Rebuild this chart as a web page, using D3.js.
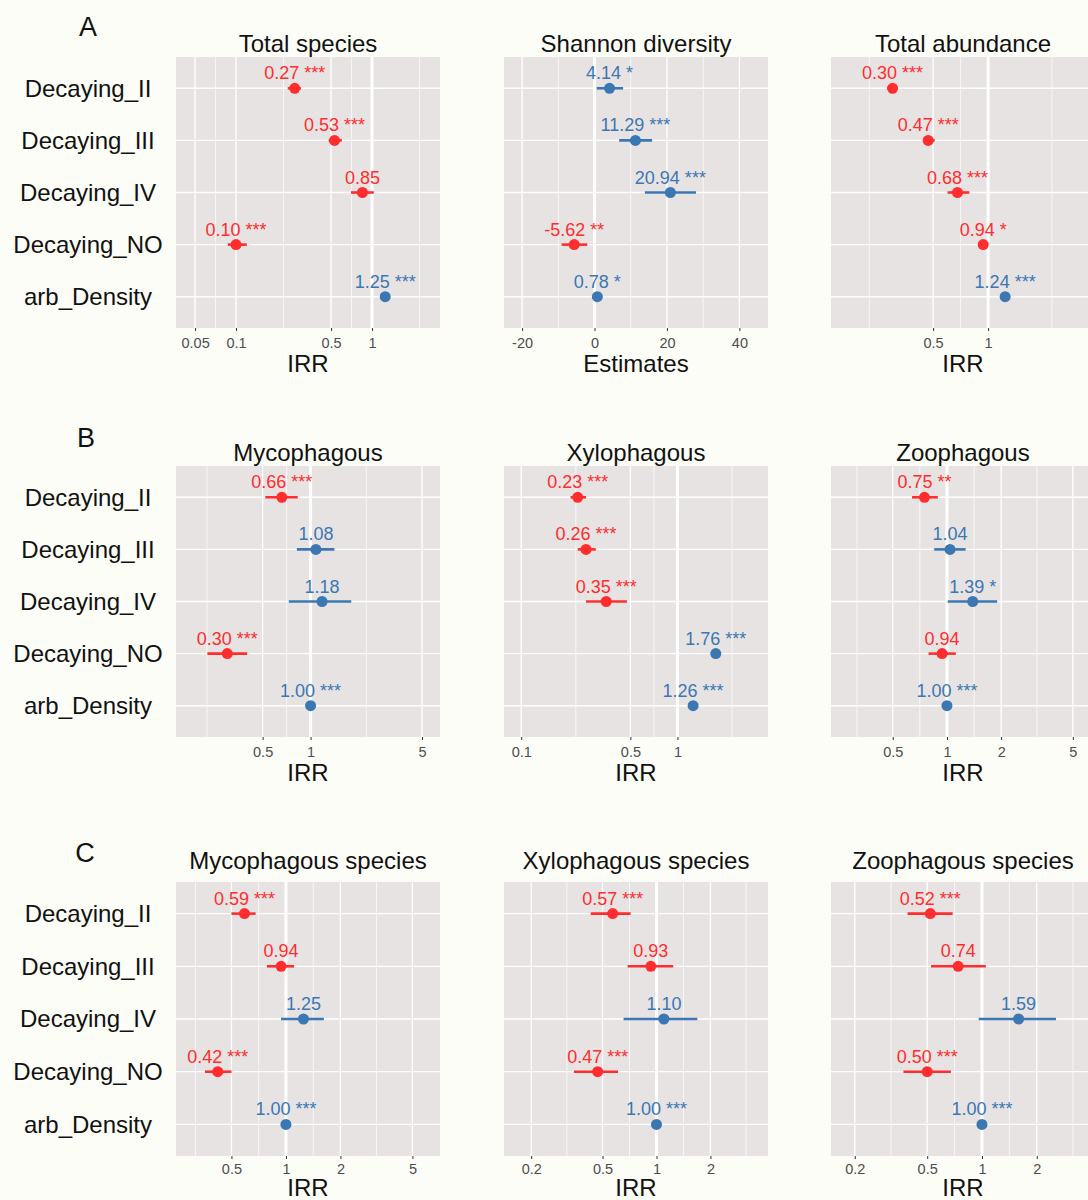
<!DOCTYPE html>
<html>
<head>
<meta charset="utf-8">
<script src="https://cdn.jsdelivr.net/npm/d3@7"></script>
<style>
  body { margin: 0; background: #fdfdf8; }
  svg { display: block; }
  text { font-family: "Liberation Sans", Arial, Helvetica, sans-serif; }
</style>
</head>
<body>
<svg id="chart" width="1088" height="1200"></svg>
<script>
// Model terms shown on every panel (top to bottom)
const terms = ["Decaying_II", "Decaying_III", "Decaying_IV", "Decaying_NO", "arb_Density"];

// ---- A: community totals ----
const totalSpeciesIRR  = [0.27, 0.53, 0.85, 0.10, 1.25];
const totalSpeciesLow  = [0.24, 0.48, 0.70, 0.087, 1.21];
const totalSpeciesHigh = [0.30, 0.60, 1.03, 0.12, 1.29];
const totalSpeciesSig  = ["***", "***", "", "***", "***"];
const totalSpeciesTicks = [0.05, 0.1, 0.5, 1, 5];

const shannonEst  = [4.14, 11.29, 20.94, -5.62, 0.78];
const shannonLow  = [0.6, 6.8, 13.9, -9.1, 0.3];
const shannonHigh = [7.9, 15.9, 28.0, -2.0, 1.3];
const shannonSig  = ["*", "***", "***", "**", "*"];
const shannonTicks = [-20, 0, 20, 40];

const totalAbundanceIRR  = [0.30, 0.47, 0.68, 0.94, 1.24];
const totalAbundanceLow  = [0.28, 0.44, 0.60, 0.91, 1.21];
const totalAbundanceHigh = [0.32, 0.51, 0.79, 0.97, 1.27];
const totalAbundanceSig  = ["***", "***", "***", "*", "***"];
const totalAbundanceTicks = [0.1, 0.5, 1, 5];

// ---- B: abundance by feeding guild ----
const mycoIRR  = [0.66, 1.08, 1.18, 0.30, 1.00];
const mycoLow  = [0.52, 0.82, 0.73, 0.225, 0.99];
const mycoHigh = [0.83, 1.41, 1.80, 0.40, 1.01];
const mycoSig  = ["***", "", "", "***", "***"];
const mycoTicks = [0.1, 0.5, 1, 5];

const xyloIRR  = [0.23, 0.26, 0.35, 1.76, 1.26];
const xyloLow  = [0.207, 0.23, 0.26, 1.73, 1.24];
const xyloHigh = [0.26, 0.30, 0.475, 1.79, 1.28];
const xyloSig  = ["***", "***", "***", "***", "***"];
const xyloTicks = [0.1, 0.5, 1, 5];

const zooIRR  = [0.75, 1.04, 1.39, 0.94, 1.00];
const zooLow  = [0.64, 0.85, 1.01, 0.79, 0.99];
const zooHigh = [0.89, 1.27, 1.90, 1.12, 1.01];
const zooSig  = ["**", "", "*", "", "***"];
const zooTicks = [0.2, 0.5, 1, 2, 5];

// ---- C: species richness by feeding guild ----
const mycoSpIRR  = [0.59, 0.94, 1.25, 0.42, 1.00];
const mycoSpLow  = [0.50, 0.785, 0.94, 0.357, 0.99];
const mycoSpHigh = [0.68, 1.11, 1.62, 0.50, 1.01];
const mycoSpSig  = ["***", "", "", "***", "***"];
const mycoSpTicks = [0.2, 0.5, 1, 2, 5];

const xyloSpIRR  = [0.57, 0.93, 1.10, 0.47, 1.00];
const xyloSpLow  = [0.43, 0.69, 0.655, 0.346, 0.99];
const xyloSpHigh = [0.717, 1.24, 1.69, 0.61, 1.01];
const xyloSpSig  = ["***", "", "", "***", "***"];
const xyloSpTicks = [0.2, 0.5, 1, 2, 5];

const zooSpIRR  = [0.52, 0.74, 1.59, 0.50, 1.00];
const zooSpLow  = [0.39, 0.525, 0.96, 0.37, 0.99];
const zooSpHigh = [0.69, 1.05, 2.55, 0.675, 1.01];
const zooSpSig  = ["***", "", "", "***", "***"];
const zooSpTicks = [0.2, 0.5, 1, 2, 5];

// Panel definitions built from the arrays above
const panels = [
  { group: 0, col: 0, title: "Total species", axis: "IRR", log: true, domain: [0.0362, 3.16], ref: 1,
    ticks: totalSpeciesTicks, est: totalSpeciesIRR, lo: totalSpeciesLow, hi: totalSpeciesHigh, sig: totalSpeciesSig },
  { group: 0, col: 1, title: "Shannon diversity", axis: "Estimates", log: false, domain: [-25, 47.9], ref: 0,
    ticks: shannonTicks, est: shannonEst, lo: shannonLow, hi: shannonHigh, sig: shannonSig },
  { group: 0, col: 2, title: "Total abundance", axis: "IRR", log: true, domain: [0.138, 3.85], ref: 1,
    ticks: totalAbundanceTicks, est: totalAbundanceIRR, lo: totalAbundanceLow, hi: totalAbundanceHigh, sig: totalAbundanceSig },
  { group: 1, col: 0, title: "Mycophagous", axis: "IRR", log: true, domain: [0.143, 6.49], ref: 1,
    ticks: mycoTicks, est: mycoIRR, lo: mycoLow, hi: mycoHigh, sig: mycoSig },
  { group: 1, col: 1, title: "Xylophagous", axis: "IRR", log: true, domain: [0.0776, 3.80], ref: 1,
    ticks: xyloTicks, est: xyloIRR, lo: xyloLow, hi: xyloHigh, sig: xyloSig },
  { group: 1, col: 2, title: "Zoophagous", axis: "IRR", log: true, domain: [0.227, 6.64], ref: 1,
    ticks: zooTicks, est: zooIRR, lo: zooLow, hi: zooHigh, sig: zooSig },
  { group: 2, col: 0, title: "Mycophagous species", axis: "IRR", log: true, domain: [0.247, 7.1], ref: 1,
    ticks: mycoSpTicks, est: mycoSpIRR, lo: mycoSpLow, hi: mycoSpHigh, sig: mycoSpSig },
  { group: 2, col: 1, title: "Xylophagous species", axis: "IRR", log: true, domain: [0.141, 4.19], ref: 1,
    ticks: xyloSpTicks, est: xyloSpIRR, lo: xyloSpLow, hi: xyloSpHigh, sig: xyloSpSig },
  { group: 2, col: 2, title: "Zoophagous species", axis: "IRR", log: true, domain: [0.148, 4.18], ref: 1,
    ticks: zooSpTicks, est: zooSpIRR, lo: zooSpLow, hi: zooSpHigh, sig: zooSpSig }
];

// Page layout
const W = 1088, H = 1200;
const columns = [[176, 440], [504, 768], [831, 1095]];
const groups = [
  { letter: "A", letterX: 88, letterY: 36,  top: 57,  bottom: 328,  titleY: 52,  tickPad: 7, axisTitleY: [372, 372, 372] },
  { letter: "B", letterX: 86, letterY: 447, top: 466, bottom: 737,  titleY: 461, tickPad: 7, axisTitleY: [781, 781, 781] },
  { letter: "C", letterX: 85, letterY: 862, top: 882, bottom: 1156, titleY: 869, tickPad: 5, axisTitleY: [1196, 1196, 1196] }
];
const panelFill = "#e8e3e3";
const negColor = "#ff2d2d";
const posColor = "#3a77b3";
const fmt2 = d3.format(".2f");
const fmt = v => fmt2(v).replace("\u2212", "-");

const svg = d3.select("#chart");
svg.append("rect").attr("width", W).attr("height", H).attr("fill", "#fdfdf8");

// Group letters and row labels
groups.forEach(g => {
  svg.append("text")
    .attr("x", g.letterX).attr("y", g.letterY)
    .attr("text-anchor", "middle")
    .attr("font-size", 27).attr("fill", "#111")
    .text(g.letter);

  const y = d3.scalePoint().domain(terms).range([g.top, g.bottom]).padding(0.6);
  svg.append("g").selectAll("text")
    .data(terms)
    .join("text")
      .attr("x", 88)
      .attr("y", d => y(d))
      .attr("dy", "0.35em")
      .attr("text-anchor", "middle")
      .attr("font-size", 24).attr("fill", "#111")
      .text(d => d);
});

panels.forEach((p, i) => {
  const g = groups[p.group];
  const [x0, x1] = columns[p.col];
  const x = (p.log ? d3.scaleLog() : d3.scaleLinear()).domain(p.domain).range([x0, x1]);
  const y = d3.scalePoint().domain(terms).range([g.top, g.bottom]).padding(0.6);
  const inside = v => v >= p.domain[0] && v <= p.domain[1];

  const clipId = "clip" + i;
  svg.append("clipPath").attr("id", clipId)
    .append("rect").attr("x", x0).attr("y", g.top).attr("width", x1 - x0).attr("height", g.bottom - g.top);

  const panel = svg.append("g").attr("clip-path", `url(#${clipId})`);
  panel.append("rect")
    .attr("x", x0).attr("y", g.top).attr("width", x1 - x0).attr("height", g.bottom - g.top)
    .attr("fill", panelFill);

  // Minor grid halfway between major breaks (in transformed space)
  const minor = d3.pairs(p.ticks).map(([a, b]) => p.log ? Math.sqrt(a * b) : (a + b) / 2).filter(inside);
  panel.append("g").selectAll("line")
    .data(minor)
    .join("line")
      .attr("x1", d => x(d)).attr("x2", d => x(d))
      .attr("y1", g.top).attr("y2", g.bottom)
      .attr("stroke", "#fff").attr("stroke-width", 0.7);

  const major = p.ticks.filter(inside);
  panel.append("g").selectAll("line")
    .data(major)
    .join("line")
      .attr("x1", d => x(d)).attr("x2", d => x(d))
      .attr("y1", g.top).attr("y2", g.bottom)
      .attr("stroke", "#fff").attr("stroke-width", 1.3);

  panel.append("g").selectAll("line")
    .data(terms)
    .join("line")
      .attr("x1", x0).attr("x2", x1)
      .attr("y1", d => y(d)).attr("y2", d => y(d))
      .attr("stroke", "#fff").attr("stroke-width", 1.3);

  // Reference line at no effect
  panel.append("line")
    .attr("x1", x(p.ref)).attr("x2", x(p.ref))
    .attr("y1", g.top).attr("y2", g.bottom)
    .attr("stroke", "#fff").attr("stroke-width", 3);

  const rows = terms.map((t, k) => ({
    term: t, est: p.est[k], lo: p.lo[k], hi: p.hi[k], sig: p.sig[k],
    color: p.est[k] < p.ref ? negColor : posColor
  }));

  // Confidence intervals
  panel.append("g").selectAll("line")
    .data(rows)
    .join("line")
      .attr("x1", d => x(d.lo)).attr("x2", d => x(d.hi))
      .attr("y1", d => y(d.term)).attr("y2", d => y(d.term))
      .attr("stroke", d => d.color).attr("stroke-width", 2.6);

  // Point estimates
  panel.append("g").selectAll("circle")
    .data(rows)
    .join("circle")
      .attr("cx", d => x(d.est)).attr("cy", d => y(d.term))
      .attr("r", 5.5)
      .attr("fill", d => d.color);

  // Value labels with significance stars
  panel.append("g").selectAll("text")
    .data(rows)
    .join("text")
      .attr("x", d => x(d.est)).attr("y", d => y(d.term) - 9)
      .attr("text-anchor", "middle")
      .attr("font-size", 18)
      .attr("fill", d => d.color)
      .text(d => fmt(d.est) + (d.sig ? " " + d.sig : ""));

  // Bottom axis
  const axis = svg.append("g")
    .attr("transform", `translate(0,${g.bottom})`)
    .call(d3.axisBottom(x).tickValues(major).tickFormat(d => String(d)).tickSize(3).tickPadding(g.tickPad));
  axis.select(".domain").remove();
  axis.selectAll(".tick line").attr("stroke", "#333").attr("stroke-width", 1);
  axis.selectAll(".tick text")
    .attr("fill", "#4d4d4d")
    .attr("font-size", 14.5)
    .attr("font-family", "Liberation Sans, Arial, sans-serif");

  // Panel title and axis title
  svg.append("text")
    .attr("x", (x0 + x1) / 2).attr("y", g.titleY)
    .attr("text-anchor", "middle")
    .attr("font-size", 24).attr("fill", "#111")
    .text(p.title);

  svg.append("text")
    .attr("x", (x0 + x1) / 2).attr("y", g.axisTitleY[p.col])
    .attr("text-anchor", "middle")
    .attr("font-size", 24).attr("fill", "#111")
    .text(p.axis);
});
</script>
</body>
</html>
